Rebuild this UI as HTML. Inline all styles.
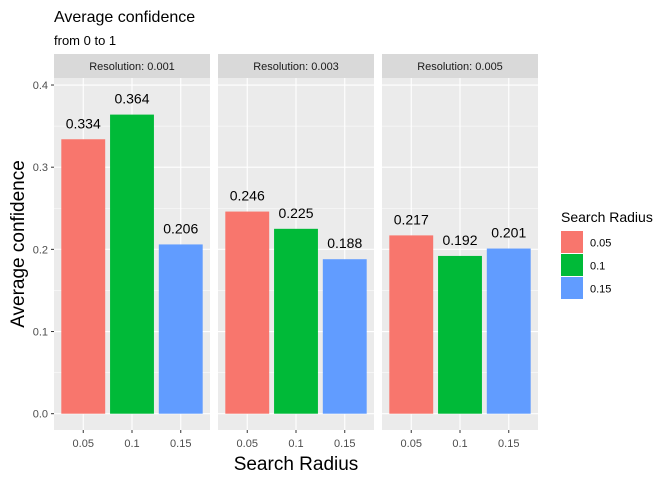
<!DOCTYPE html>
<html><head><meta charset="utf-8"><style>
body{margin:0;background:#fff;font-family:"Liberation Sans",Arial,sans-serif}
</style></head><body>
<svg id="c" width="672" height="480" xmlns="http://www.w3.org/2000/svg" font-family="Liberation Sans, Arial, sans-serif">
<text x="54" y="22" font-size="16" fill="#000">Average confidence</text>
<text x="54" y="45" font-size="13" fill="#000">from 0 to 1</text>
<text transform="translate(24,244) rotate(-90)" text-anchor="middle" font-size="19" fill="#000">Average confidence</text>
<text x="296" y="470" text-anchor="middle" font-size="19" fill="#000">Search Radius</text>
<g id="panels"></g>
<g id="legend">
<text x="561" y="222" font-size="14" fill="#000">Search Radius</text>
</g>
</svg>
<script>
const facets=["Resolution: 0.001","Resolution: 0.003","Resolution: 0.005"];
const categories=["0.05","0.1","0.15"];
const values=[[0.334,0.364,0.206],[0.246,0.225,0.188],[0.217,0.192,0.201]];
const yTicks=[0,0.1,0.2,0.3,0.4];
const yTickLabels=["0.0","0.1","0.2","0.3","0.4"];
const colors=["#F8766D","#00BA38","#619CFF"];
(function(){
const NS="http://www.w3.org/2000/svg";
const P=document.getElementById('panels'),L=document.getElementById('legend');
function mk(t,a,p){const e=document.createElementNS(NS,t);for(const k in a)e.setAttribute(k,a[k]);(p||P).appendChild(e);return e;}
const y0=413.7,k=821.7,yTop=78,yBot=430;
const y=v=>y0-v*k;
const px=[54,218,382],pw=156;
const unit=pw/(categories.length-1+1.2);
const xc=(p,i)=>px[p]+(0.6+i)*unit;
facets.forEach((f,p)=>{
 let r=mk('rect',{x:px[p],y:54,width:pw,height:24,fill:'#D9D9D9'});
 
 
 let t=mk('text',{x:px[p]+pw/2,y:70,'text-anchor':'middle','font-size':11,fill:'#1A1A1A'});t.textContent=f;
 
 
 let bg=mk('rect',{x:px[p],y:yTop,width:pw,height:yBot-yTop,fill:'#EBEBEB'});
 
 
 for(let i=0;i<yTicks.length-1;i++){const m=(yTicks[i]+yTicks[i+1])/2;mk('line',{x1:px[p],x2:px[p]+pw,y1:y(m),y2:y(m),stroke:'#fff','stroke-width':0.5});}
 yTicks.forEach(v=>mk('line',{x1:px[p],x2:px[p]+pw,y1:y(v),y2:y(v),stroke:'#fff','stroke-width':1.1}));
 categories.forEach((c,i)=>{
  mk('line',{x1:xc(p,i),x2:xc(p,i),y1:yTop,y2:yBot,stroke:'#fff','stroke-width':1.1});
  mk('line',{x1:xc(p,i),x2:xc(p,i),y1:yBot,y2:yBot+3,stroke:'#333'});
  let tl=mk('text',{x:xc(p,i),y:447,'text-anchor':'middle','font-size':11,fill:'#4D4D4D'});tl.textContent=c;
  
  
 });
 categories.forEach((c,i)=>{
  const v=values[p][i],w=unit*0.9;
  let b=mk('rect',{x:xc(p,i)-w/2,y:y(v),width:w,height:y0-y(v),fill:colors[i]});
  
  
  let l=mk('text',{x:xc(p,i),y:y(v)-11,'text-anchor':'middle','font-size':14,fill:'#000'});l.textContent=v.toFixed(3);
  
  
 });
});
yTicks.forEach((v,i)=>{
 mk('line',{x1:51,x2:54,y1:y(v),y2:y(v),stroke:'#333'});
 let t=mk('text',{x:48,y:y(v)+4,'text-anchor':'end','font-size':11,fill:'#4D4D4D'});t.textContent=yTickLabels[i];
 
 
});
categories.forEach((c,i)=>{
 const yy=231+i*23;
 let r=mk('rect',{x:561,y:yy,width:22,height:22,fill:colors[i]},L);
 
 
 let t=mk('text',{x:590,y:yy+15.5,'font-size':11,fill:'#000'},L);t.textContent=c;
 
 
});
})();
</script>
</body></html>
